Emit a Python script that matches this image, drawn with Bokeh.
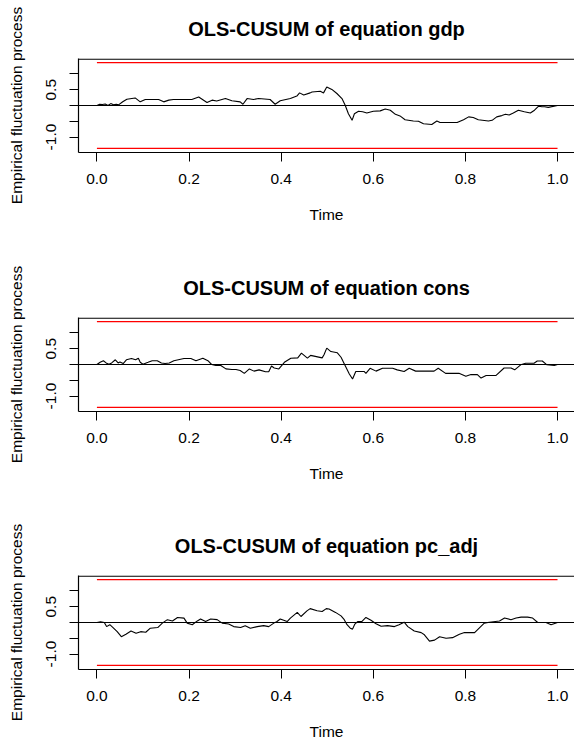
from bokeh.plotting import figure
from bokeh.layouts import column
from bokeh.models import Range1d, Span, FixedTicker, PrintfTickFormatter
from bokeh.embed import file_html
from bokeh.resources import INLINE

# ---- data ----
titles = ["OLS-CUSUM of equation gdp", "OLS-CUSUM of equation cons", "OLS-CUSUM of equation pc_adj"]
boundary = 1.358
bound_x = [0.0, 1.0]

gdp_t = [0, .006, .012, .018, .024, .03, .036, .042, .047, .056, .065, .083, .094, .105, .12, .134, .145,
         .156, .166, .185, .206, .221, .239, .25, .26, .279, .293, .311, .317, .326, .34, .351, .376, .387,
         .398, .42, .434, .44, .449, .463, .467, .485, .492, .499, .51, .521, .532, .539, .546, .554, .559,
         .568, .577, .586, .6, .615, .626, .637, .648, .658, .669, .687, .698, .709, .727, .738, .745, .782,
         .796, .807, .817, .828, .85, .858, .868, .879, .887, .895, .904, .915, .928, .941, .95, .959, .966,
         .972, .98, 1.0]
gdp_v = [0, .04, .03, .05, .0, .06, .02, .04, .02, .12, .2, .24, .115, .19, .19, .19, .115,
         .17, .19, .19, .19, .27, .095, .17, .14, .22, .15, .115, .04, .22, .19, .22, .19, .04,
         .15, .22, .3, .4, .33, .4, .43, .45, .4, .59, .51, .38, .22, .01, -.26, -.47, -.26,
         -.18, -.2, -.24, -.18, -.17, -.11, -.15, -.28, -.33, -.45, -.49, -.5, -.58, -.6, -.49, -.54, -.54,
         -.45, -.36, -.38, -.45, -.49, -.47, -.36, -.32, -.28, -.3, -.24, -.15, -.2, -.24, -.15, -.02, -.04,
         -.04, -.06, 0]

cons_t = [0, .007, .014, .02, .026, .032, .04, .046, .05, .057, .064, .075, .084, .09, .094, .1, .111,
          .12, .131, .14, .148, .157, .167, .189, .204, .215, .23, .241, .249, .258, .269, .28, .293, .302,
          .311, .32, .331, .341, .352, .366, .373, .379, .385, .395, .407, .421, .436, .444, .457, .464,
          .489, .493, .499, .508, .522, .53, .538, .548, .555, .562, .58, .584, .593, .606, .62, .642, .652,
          .667, .678, .692, .732, .741, .757, .786, .801, .812, .826, .834, .845, .866, .884, .899, .907,
          .92, .931, .949, .956, .967, .977, .993, 1.0]
cons_v = [0, .07, .12, .05, .01, .05, .15, .05, .08, .03, .15, .19, .15, .2, .07, .01, .07,
          .12, .12, .05, .03, .05, .12, .19, .19, .12, .2, .12, 0, -.03, -.03, -.14, -.16, -.16,
          -.19, -.28, -.14, -.21, -.17, -.23, -.23, -.05, -.11, -.14, .07, .2, .21, .36, .2, .29,
          .21, .31, .52, .41, .37, .23, -.01, -.3, -.46, -.22, -.22, -.28, -.12, -.21, -.12, -.12, -.17,
          -.22, -.12, -.21, -.21, -.12, -.28, -.28, -.37, -.32, -.32, -.43, -.35, -.35, -.11, -.11, -.17,
          -.01, .04, .04, .11, .11, -.01, -.03, 0]

pc_t = [0, .008, .016, .021, .028, .035, .044, .053, .063, .074, .085, .095, .106, .116, .132, .142,
        .153, .164, .175, .189, .196, .207, .218, .225, .236, .247, .261, .272, .286, .297, .312, .322,
        .333, .348, .362, .373, .384, .391, .398, .413, .42, .435, .443, .456, .463, .478, .489, .498,
        .504, .518, .53, .537, .543, .55, .555, .56, .566, .575, .584, .595, .606, .617, .631, .646, .656,
        .667, .675, .689, .704, .711, .722, .733, .744, .758, .772, .787, .798, .82, .831, .841, .852,
        .874, .885, .899, .91, .921, .935, .946, .957, .975, .986, 1.0]
pc_v = [0, .02, 0, -.13, -.07, -.16, -.29, -.45, -.37, -.27, -.34, -.29, -.31, -.18, -.16, -.02,
        .09, .05, .16, .14, -.02, -.07, .05, .11, .03, .11, .09, -.02, -.05, -.13, -.16, -.1,
        -.18, -.13, -.1, -.13, -.02, .03, .11, .03, .14, .32, .19, .37, .44, .37, .35, .44,
        .43, .32, .21, .09, -.07, -.18, -.21, -.05, .03, .03, .16, .07, -.04, -.12, -.1, -.13, -.07,
        .01, -.13, -.27, -.32, -.39, -.59, -.56, -.45, -.5, -.48, -.37, -.32, -.32, -.16, -.02, .01,
        .05, .14, .09, .14, .17, .17, .14, 0, 0, -.07, 0]

series_t = [gdp_t, cons_t, pc_t]
series_v = [gdp_v, cons_v, pc_v]

x_ticks = [0.0, 0.2, 0.4, 0.6, 0.8, 1.0]
y_ticks = [-1.0, -0.5, 0.0, 0.5, 1.0]
y_tick_labels = {-1.0: "-1.0", -0.5: "", 0.0: "", 0.5: "0.5", 1.0: ""}

FONT = "Liberation Sans"
heights = [259, 258, 225]
FRAME_TOP = 58
FRAME_BOTTOM = 152
Y_LIM = 1.49


def make_panel(title, t, v, h):
    p = figure(width=574, height=h, title=title,
               x_range=Range1d(-0.04, -0.04 + 496 / 460.6),
               y_range=Range1d(-Y_LIM, Y_LIM),
               min_border_left=78, min_border_right=0,
               min_border_top=FRAME_TOP, min_border_bottom=h - FRAME_BOTTOM,
               output_backend="svg", toolbar_location=None)
    p.background_fill_color = "white"
    p.border_fill_color = "white"
    p.outline_line_color = None
    p.grid.visible = False

    p.title.align = "center"
    p.title.vertical_align = "top"
    p.title.text_font = FONT
    p.title.text_font_size = "20px"
    p.title.text_font_style = "bold"
    p.title.text_color = "black"
    p.title.standoff = 33

    for ax in (p.xaxis[0], p.yaxis[0]):
        ax.major_tick_out = 9
        ax.major_tick_in = 0
        ax.minor_tick_line_color = None
        ax.axis_line_color = "black"
        ax.axis_line_width = 1.2
        ax.major_tick_line_color = "black"
        ax.major_label_text_font = FONT
        ax.major_label_text_font_size = "15.5px"
        ax.major_label_text_color = "black"
        ax.axis_label_text_font = FONT
        ax.axis_label_text_font_size = "15.5px"
        ax.axis_label_text_font_style = "normal"
        ax.axis_label_text_color = "black"

    p.xaxis.ticker = FixedTicker(ticks=x_ticks)
    p.xaxis.formatter = PrintfTickFormatter(format="%.1f")
    p.xaxis.axis_label = "Time"
    p.xaxis.major_label_standoff = 12
    p.xaxis.axis_label_standoff = 19

    p.yaxis.ticker = FixedTicker(ticks=y_ticks)
    p.yaxis.major_label_overrides = y_tick_labels
    p.yaxis.major_label_orientation = "vertical"
    p.yaxis.axis_label = "Empirical fluctuation process"
    p.yaxis.major_label_standoff = 13
    p.yaxis.axis_label_standoff = 19

    # top edge of the box (right edge falls outside the picture)
    p.add_layout(Span(location=Y_LIM - 0.02, dimension="width", line_color="black", line_width=1.3))

    p.line(bound_x, [boundary, boundary], line_color="#FF0000", line_width=1.4)
    p.line(bound_x, [-boundary, -boundary], line_color="#FF0000", line_width=1.4)
    p.add_layout(Span(location=0, dimension="width", line_color="black", line_width=1.2))
    p.line(t, v, line_color="black", line_width=1.1)
    return p


panels = [make_panel(titles[i], series_t[i], series_v[i], heights[i]) for i in range(3)]
layout = column(*panels, spacing=0)

open("out.html", "w").write(file_html(layout, INLINE))
